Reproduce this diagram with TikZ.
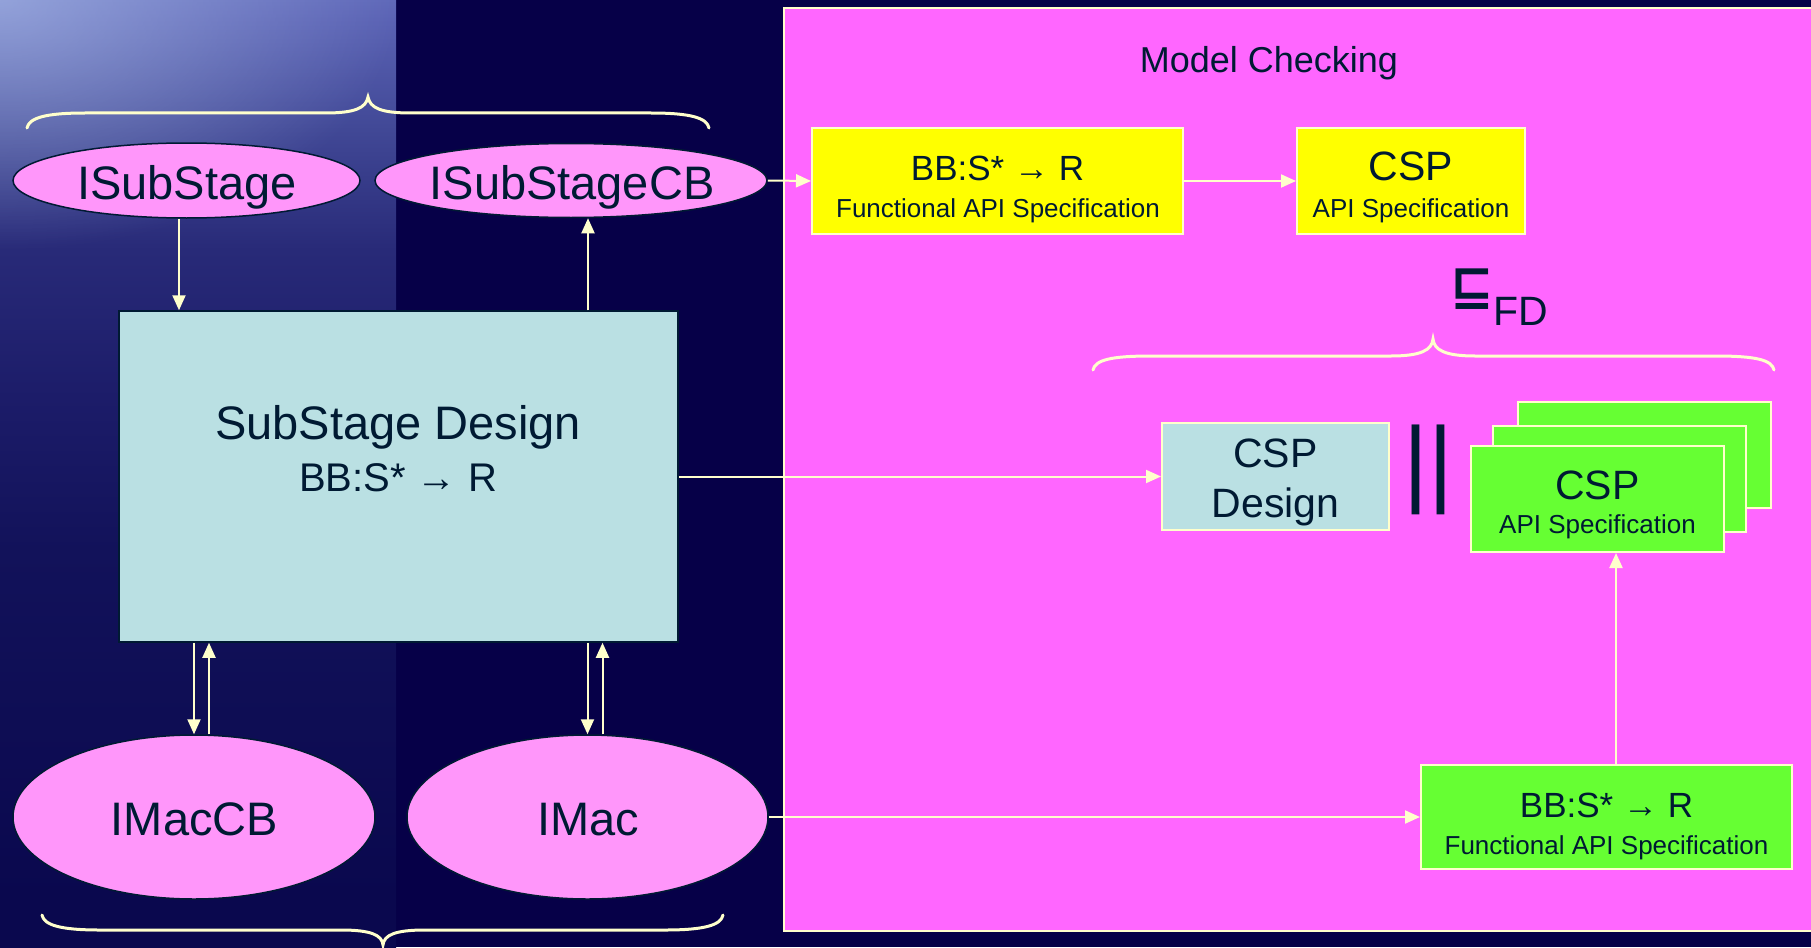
\documentclass[tikz,border=0pt]{standalone}
\usepackage{fontspec}
\setmainfont{Liberation Sans}
\newfontfamily\dejavu{DejaVu Sans}
\usetikzlibrary{arrows.meta,shapes.geometric,fadings}
\newcommand\setfs[1]{\fontsize{#1pt}{#1pt}\selectfont}
\definecolor{bgnavy}{RGB}{6,0,72}
\definecolor{mag}{RGB}{255,102,255}
\definecolor{pinkell}{RGB}{255,150,250}
\definecolor{lblue}{RGB}{186,224,227}
\definecolor{yel}{RGB}{255,255,0}
\definecolor{grn}{RGB}{102,255,51}
\definecolor{cream}{RGB}{255,255,204}
\definecolor{txt}{RGB}{0,26,51}
\definecolor{glowc}{RGB}{190,210,245}
\definecolor{lpa}{RGB}{10,8,78}
\definecolor{lpb}{RGB}{18,18,90}
\definecolor{lpc}{RGB}{28,28,105}
\definecolor{lpd}{RGB}{40,42,120}
\definecolor{lpe}{RGB}{65,72,150}
\definecolor{lpf}{RGB}{90,98,180}
\definecolor{lpg}{RGB}{95,104,185}
\pgfdeclareverticalshading{leftpanel}{100bp}{color(0bp)=(lpa); color(27.5bp)=(lpa); color(46bp)=(lpb); color(54bp)=(lpc); color(61.8bp)=(lpd); color(68.15bp)=(lpe); color(74bp)=(lpf); color(75bp)=(lpg); color(100bp)=(lpg)}
\tikzfading[name=glowfade, inner color=transparent!0, outer color=transparent!100]
\begin{document}
\begin{tikzpicture}[x=1pt,y=-1pt,
  ell/.style={ellipse, draw=txt, line width=1.5pt, fill=pinkell, inner sep=0pt},
  box/.style={rectangle, draw=cream, line width=2pt, inner sep=0pt},
  conn/.style={draw=cream, line width=2pt, -{Triangle[length=15pt,width=13pt]}},
  brc/.style={draw=cream, line width=3pt, line cap=round},
  t/.style={text=txt, inner sep=0pt}]
\useasboundingbox (0,0) rectangle (1811,947);
% background
\fill[bgnavy] (0,0) rectangle (1811,947);
\shade[shading=leftpanel] (0,0) rectangle (396,947);
\begin{scope}
  \clip (0,0) rectangle (396,947);
  \fill[glowc, opacity=0.55, path fading=glowfade, fit fading=true] (-400,-250) rectangle (400,250);
\end{scope}
% model checking panel
\node[box, fill=mag, minimum width=1032pt, minimum height=922.5pt, anchor=north west] (mc) at (783,7.5) {};
\node[t, anchor=base] (mctitle) at (1269,73) {\setfs{36}Model Checking};
% braces
\draw[brc] (27,128) .. controls (29,118) and (45,113) .. (85,113) -- (325,113) .. controls (355,113) and (366,108) .. (368,97) .. controls (370,108) and (381,113) .. (411,113) -- (651,113) .. controls (691,113) and (707,118) .. (709,128);
\draw[brc] (1093,370) .. controls (1095,360) and (1111,356) .. (1151,356) -- (1391,356) .. controls (1421,356) and (1432,350) .. (1433,339) .. controls (1434,350) and (1445,356) .. (1475,356) -- (1716,356) .. controls (1756,356) and (1772,360) .. (1774,370);
\draw[brc] (42,915) .. controls (44,925) and (60,930) .. (100,930) -- (341,930) .. controls (371,930) and (382,935) .. (383,945) .. controls (384,935) and (395,930) .. (425,930) -- (665,930) .. controls (705,930) and (721,925) .. (723,915);
% ellipses
\node[ell, minimum width=347pt, minimum height=75pt] (iss) at (186.5,180.5) {};
\node[t, anchor=base] (isst) at (187,199) {\setfs{47}ISubStage};
\node[ell, minimum width=392pt, minimum height=74pt] (isscb) at (571,180.5) {};
\node[t, anchor=base] (isscbt) at (572,199) {\setfs{47}ISubStageCB};
\node[ell, minimum width=362pt, minimum height=164pt] (imaccb) at (194,817) {};
\node[t, anchor=base] (imaccbt) at (194.5,835) {\setfs{47}IMacCB};
\node[ell, minimum width=361pt, minimum height=164pt] (imac) at (587.5,817) {};
\node[t, anchor=base] (imact) at (588,835) {\setfs{47}IMac};
% design box
\node[rectangle, draw=txt, line width=1.5pt, fill=lblue, minimum width=559pt, minimum height=331pt, inner sep=0pt] (design) at (398.5,476.5) {};
\node[t, anchor=base] (designt1) at (398,439) {\setfs{47}SubStage Design};
\node[t, anchor=base] (designt2) at (398,491) {\setfs{40}BB:S* → R};
% yellow boxes
\node[box, fill=yel, minimum width=371pt, minimum height=106pt] (y1) at (997.5,181) {};
\node[t, anchor=base] (y1a) at (997.5,180) {\setfs{35}BB:S* → R};
\node[t, anchor=base] (y1b) at (998,217) {\setfs{26}Functional API Specification};
\node[box, fill=yel, minimum width=228pt, minimum height=106pt] (y2) at (1411,181) {};
\node[t, anchor=base] (y2a) at (1411,180) {\setfs{41}CSP};
\node[t, anchor=base] (y2b) at (1411,217) {\setfs{26}API Specification};
% refinement symbol
\node[t, anchor=base west] (sqs) at (1450,303) {\dejavu\bfseries\setfs{52}⊑};
\node[t, anchor=base west] (fdt) at (1493,325) {\setfs{41}FD};
% CSP design
\node[box, fill=lblue, minimum width=227pt, minimum height=107pt] (cspd) at (1275.5,476.5) {};
\node[t, anchor=base] (cspda) at (1275.5,467) {\setfs{41}CSP};
\node[t, anchor=base] (cspdb) at (1275.5,517) {\setfs{41}Design};
\node[t] (par) at (1428.5,469.5) {\setfs{96}||};
% green stack
\node[box, fill=grn, minimum width=253pt, minimum height=106pt] (g3) at (1644.5,455) {};
\node[box, fill=grn, minimum width=253pt, minimum height=106pt] (g2) at (1619,479) {};
\node[box, fill=grn, minimum width=253pt, minimum height=106pt] (g1) at (1597.5,499) {};
\node[t, anchor=base] (g1a) at (1597.5,499) {\setfs{41}CSP};
\node[t, anchor=base] (g1b) at (1597.5,533) {\setfs{26}API Specification};
\node[box, fill=grn, minimum width=371pt, minimum height=104pt] (gb) at (1606.5,817) {};
\node[t, anchor=base] (gba) at (1606.5,817) {\setfs{35}BB:S* → R};
\node[t, anchor=base] (gbb) at (1606.5,854) {\setfs{26}Functional API Specification};
% connectors
\draw[conn] ([xshift=-7.5pt]iss.south) -- ([xshift=-7.5pt]iss.south |- design.north);
\draw[conn] ([xshift=17pt]isscb.south |- design.north) -- ([xshift=17pt]isscb.south);
\draw[conn] (isscb.east) -- (y1.west);
\draw[conn] (y1.east) -- (y2.west);
\draw[conn] (design.east) -- (cspd.west);
\draw[conn] (imac.east) -- (gb.west);
\draw[conn] ([xshift=9.5pt]gb.north) -- ([xshift=9.5pt]gb.north |- g1.south);
\draw[conn] (imaccb.north |- design.south) -- (imaccb.north);
\draw[conn] ([xshift=15pt]imaccb.north) -- ([xshift=15pt]imaccb.north |- design.south);
\draw[conn] (imac.north |- design.south) -- (imac.north);
\draw[conn] ([xshift=15pt]imac.north) -- ([xshift=15pt]imac.north |- design.south);
\end{tikzpicture}
\end{document}
